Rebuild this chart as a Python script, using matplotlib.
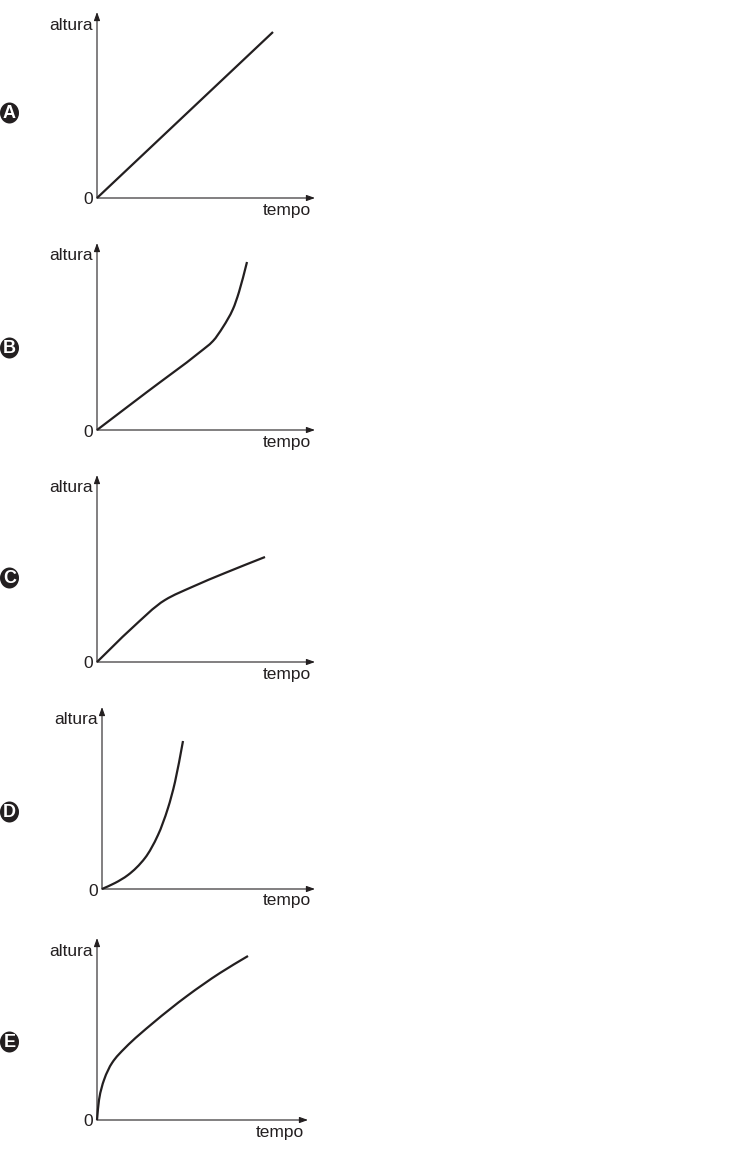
import numpy as np
import matplotlib
matplotlib.use("Agg")
from matplotlib import pyplot as plt
from matplotlib.path import Path
from matplotlib.patches import PathPatch, Ellipse

plt.rcParams["font.family"] = ["Liberation Sans", "DejaVu Sans"]

# values (tempo, altura), origin at 0
letters = ["A", "B", "C", "D", "E"]

tempo_a = [0, 176]
altura_a = [0, 166]

tempo_b = [0, 50, 103, 116, 126, 136, 142, 150]
altura_b = [0, 38, 78, 89, 103, 121, 138, 168]

tempo_c = [0, 34, 68, 95, 128, 168]
altura_c = [0, 33, 62, 75, 89, 105]

tempo_d = [0, 13, 26, 43, 56, 66, 73, 81]
altura_d = [0, 6, 14, 31, 54, 81, 107, 148]

tempo_e = [0, 2, 7, 15, 28, 56, 90, 123, 151]
altura_e = [0, 20, 40, 57, 72, 97, 124, 147, 164]

series = [(tempo_a, altura_a), (tempo_b, altura_b), (tempo_c, altura_c),
          (tempo_d, altura_d), (tempo_e, altura_e)]

# panel layout in pixels: origin x, origin y, x-arrow tip, y-arrow tip, letter y
panels = [
    (97, 198, 315, 12, 113),
    (97, 430, 315, 243, 348),
    (97, 662, 315, 475, 578),
    (102, 889, 315, 707, 812),
    (97, 1120, 308, 938, 1042),
]

W, H = 753, 1150
ink = "#231f20"


def smooth_path(xs, ys):
    # monotone cubic (pchip-style) drawn as bezier segments
    x = np.asarray(xs, float)
    y = np.asarray(ys, float)
    h = np.diff(x)
    d = np.diff(y) / h
    m = np.empty_like(x)
    m[0], m[-1] = d[0], d[-1]
    for k in range(1, len(x) - 1):
        if d[k - 1] * d[k] <= 0:
            m[k] = 0
        else:
            w1 = 2 * h[k] + h[k - 1]
            w2 = h[k] + 2 * h[k - 1]
            m[k] = (w1 + w2) / (w1 / d[k - 1] + w2 / d[k])
    verts = [(x[0], y[0])]
    codes = [Path.MOVETO]
    for k in range(len(x) - 1):
        verts += [(x[k] + h[k] / 3, y[k] + m[k] * h[k] / 3),
                  (x[k + 1] - h[k] / 3, y[k + 1] - m[k + 1] * h[k] / 3),
                  (x[k + 1], y[k + 1])]
        codes += [Path.CURVE4] * 3
    return Path(verts, codes)


fig = plt.figure(figsize=(W / 100, H / 100), dpi=100)

for (ox, oy, xt, yt, ly), (t, h), letter in zip(panels, series, letters):
    xlen = xt - ox
    ylen = oy - yt
    ax = fig.add_axes([ox / W, 1 - oy / H, xlen / W, ylen / H])
    ax.set_xlim(0, xlen)
    ax.set_ylim(0, ylen)
    ax.axis("off")

    arrow = dict(arrowstyle="-|>,head_length=0.5,head_width=0.18",
                 lw=0.8, color=ink, shrinkA=0, shrinkB=0)
    ax.annotate("", xy=(xlen, 0), xytext=(0, 0), arrowprops=arrow,
                annotation_clip=False)
    ax.annotate("", xy=(0, ylen), xytext=(0, 0), arrowprops=arrow,
                annotation_clip=False)

    ax.add_patch(PathPatch(smooth_path(t, h), fc="none", ec=ink, lw=1.6,
                           capstyle="butt", clip_on=False))

    ax.text(-4, ylen - 13, "altura", ha="right", va="center",
            fontsize=12.5, color=ink, clip_on=False)
    ax.text(-9, -2, "0", ha="center", va="center",
            fontsize=12.5, color=ink, clip_on=False)
    ax.text(xlen - 4, -12, "tempo", ha="right", va="center",
            fontsize=12.5, color=ink, clip_on=False)

    cx = 9.5 - ox
    cy = oy - ly
    ax.add_patch(Ellipse((cx, cy), 19, 21, fc=ink, ec="none", clip_on=False))
    ax.text(cx, cy - 0.5, letter, ha="center", va="center", fontsize=13,
            fontweight="bold", color="white", clip_on=False,
            family=["Liberation Sans Narrow", "Liberation Sans"])

fig.savefig("out.png", dpi=100)
